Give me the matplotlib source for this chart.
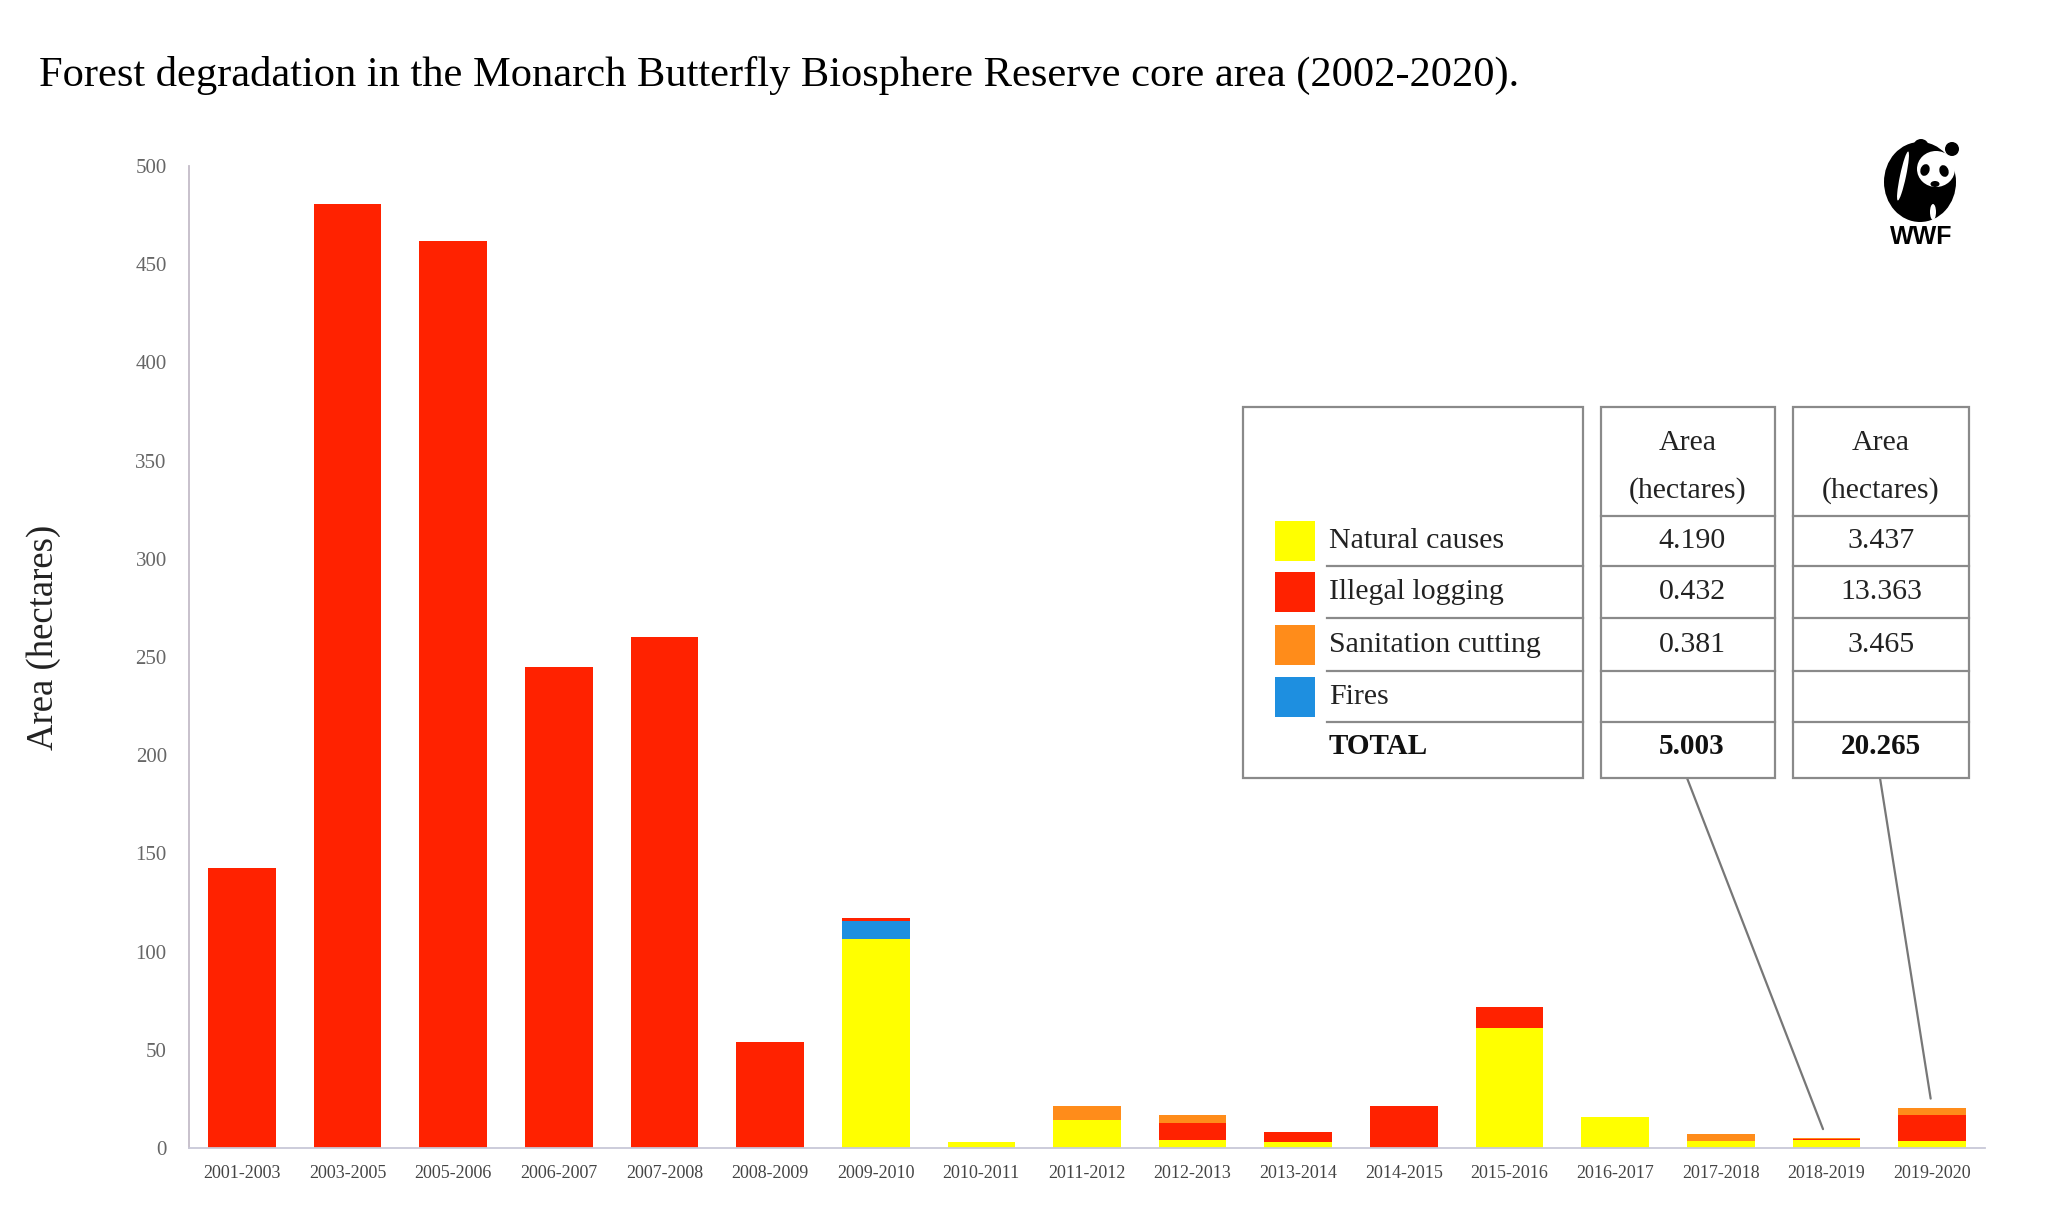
import matplotlib
matplotlib.use("Agg")
import matplotlib.pyplot as plt
from matplotlib.patches import Rectangle, Ellipse
from matplotlib.patches import ConnectionPatch
import numpy as np

# ---------------- data ----------------
periods = ['2001-2003', '2003-2005', '2005-2006', '2006-2007', '2007-2008',
           '2008-2009', '2009-2010', '2010-2011', '2011-2012', '2012-2013',
           '2013-2014', '2014-2015', '2015-2016', '2016-2017', '2017-2018',
           '2018-2019', '2019-2020']
natural    = [0, 0, 0, 0, 0, 0, 106.3, 3.0, 14.2, 4.0, 3.0, 0, 61.0, 15.8, 3.5, 4.190, 3.437]
fires      = [0, 0, 0, 0, 0, 0, 9.1, 0, 0, 0, 0, 0, 0, 0, 0, 0, 0]
illegal    = [142.5, 480.7, 462.0, 244.7, 260.0, 54.0, 1.5, 0, 0, 8.6, 5.0, 21.4, 11.0, 0, 0, 0.432, 13.363]
sanitation = [0, 0, 0, 0, 0, 0, 0, 0, 7.2, 4.1, 0, 0, 0, 0, 3.5, 0.381, 3.465]

yticks = [0, 50, 100, 150, 200, 250, 300, 350, 400, 450, 500]

legend_labels = ['Natural causes', 'Illegal logging', 'Sanitation cutting', 'Fires']
col1_values = ['4.190', '0.432', '0.381', '']
col2_values = ['3.437', '13.363', '3.465', '']
col1_total = '5.003'
col2_total = '20.265'
highlight_idx = [15, 16]

C_NAT = '#FFFF00'
C_ILL = '#FF2200'
C_SAN = '#FF8C1A'
C_FIR = '#1E8FE0'

SERIF = ['Liberation Serif', 'DejaVu Serif']

# ---------------- figure ----------------
fig = plt.figure(figsize=(20.48, 12.24), dpi=100)
fig.patch.set_facecolor('white')
ax = fig.add_axes([189/2048, 1 - 1148/1224, (1985-189)/2048, (1148-166)/1224])

x = np.arange(len(periods))
w = 0.64
nat = np.array(natural); fir = np.array(fires); ill = np.array(illegal); san = np.array(sanitation)
ax.bar(x, nat, w, color=C_NAT, linewidth=0)
ax.bar(x, fir, w, bottom=nat, color=C_FIR, linewidth=0)
ax.bar(x, ill, w, bottom=nat + fir, color=C_ILL, linewidth=0)
ax.bar(x, san, w, bottom=nat + fir + ill, color=C_SAN, linewidth=0)
totals = nat + fir + ill + san

ax.set_xlim(-0.5, len(periods) - 0.5)
ax.set_ylim(0, 500)
ax.set_yticks(yticks)
ax.set_yticklabels([str(v) for v in yticks], family=SERIF, fontsize=15, color='#666666')
ax.set_xticks(x)
ax.set_xticklabels(periods, family=SERIF, fontsize=13, color='#444444')
ax.tick_params(axis='y', length=0, pad=16)
ax.tick_params(axis='x', length=0, pad=12)
for s in ['top', 'right']:
    ax.spines[s].set_visible(False)
ax.spines['left'].set_color('#c4bcc8')
ax.spines['bottom'].set_color('#c8c8d8')
ax.spines['left'].set_linewidth(1.3)
ax.spines['bottom'].set_linewidth(1.3)
ax.set_ylabel('Area (hectares)', family=SERIF, fontsize=26.5, color='#222222')
ax.yaxis.set_label_coords(-0.071, 0.52)

# ---------------- overlay (pixel coords) ----------------
ov = fig.add_axes([0, 0, 1, 1], zorder=5)
ov.set_xlim(0, 2048)
ov.set_ylim(1224, 0)
ov.axis('off')

ov.text(39, 86, 'Forest degradation in the Monarch Butterfly Biosphere Reserve core area (2002-2020).',
        family=SERIF, fontsize=30.6, color='black', va='baseline', ha='left')

# table
LC = '#8a8a8a'
LW = 1.6
top, bot = 407, 778
rows = [516, 566, 618, 671, 722, 778]
b1 = (1243, 1583)
b2 = (1601, 1775)
b3 = (1793, 1969)
FS = 21.5
for (l, r) in (b1, b2, b3):
    ov.add_patch(Rectangle((l, top), r - l, bot - top, facecolor='white', edgecolor=LC, lw=LW))
for yv in rows[1:-1]:
    ov.plot([1327, b1[1]], [yv, yv], color=LC, lw=LW)
for (l, r) in (b2, b3):
    for yv in rows[:-1]:
        ov.plot([l, r], [yv, yv], color=LC, lw=LW)

sw_colors = [C_NAT, C_ILL, C_SAN, C_FIR]
for i, (lab, c) in enumerate(zip(legend_labels, sw_colors)):
    yc = (rows[i] + rows[i + 1]) / 2
    ov.add_patch(Rectangle((1275, yc - 20), 40, 40, facecolor=c, edgecolor='none'))
    ov.text(1329, yc, lab, family=SERIF, fontsize=FS, color='#222222', va='center', ha='left')
    ov.text(sum(b2) / 2 + 4, yc, col1_values[i], family=SERIF, fontsize=FS, color='#222222', va='center', ha='center')
    ov.text(sum(b3) / 2, yc, col2_values[i], family=SERIF, fontsize=FS, color='#222222', va='center', ha='center')
yt = (rows[4] + rows[5]) / 2 - 3
ov.text(1329, yt, 'TOTAL', family=SERIF, fontsize=FS - 0.5, weight='bold', color='#111111', va='center', ha='left')
ov.text(sum(b2) / 2 + 4, yt, col1_total, family=SERIF, fontsize=FS - 0.5, weight='bold', color='#111111', va='center', ha='center')
ov.text(sum(b3) / 2, yt, col2_total, family=SERIF, fontsize=FS - 0.5, weight='bold', color='#111111', va='center', ha='center')
for (l, r) in (b2, b3):
    ov.text((l + r) / 2, 443, 'Area', family=SERIF, fontsize=FS, color='#222222', va='center', ha='center')
    ov.text((l + r) / 2, 491, '(hectares)', family=SERIF, fontsize=FS, color='#222222', va='center', ha='center')

# connectors
for (l, r), idx in zip((b2, b3), highlight_idx):
    con = ConnectionPatch(xyA=((l + r) / 2 - 1, bot), coordsA=ov.transData,
                          xyB=(idx, totals[idx]), coordsB=ax.transData,
                          color='#777777', lw=1.6, shrinkB=7)
    fig.add_artist(con)

# WWF logo (simplified panda)
K = 'black'
ov.add_patch(Ellipse((1920, 182), 72, 80, facecolor=K, edgecolor='none'))
ov.add_patch(Ellipse((1903, 176), 6, 50, angle=12, facecolor='white', edgecolor='none'))
ov.add_patch(Ellipse((1936, 169), 38, 36, facecolor='white', edgecolor='none'))
ov.add_patch(Ellipse((1921, 146), 15, 14, facecolor=K, edgecolor='none'))
ov.add_patch(Ellipse((1952, 149), 14, 14, facecolor=K, edgecolor='none'))
ov.add_patch(Ellipse((1925, 170), 9, 12, angle=20, facecolor=K, edgecolor='none'))
ov.add_patch(Ellipse((1944, 171), 9, 12, angle=-20, facecolor=K, edgecolor='none'))
ov.add_patch(Ellipse((1935, 184), 9, 6, facecolor=K, edgecolor='none'))
ov.add_patch(Ellipse((1933, 212), 6, 16, facecolor='white', edgecolor='none'))
ov.text(1921, 237, 'WWF', family=['Liberation Sans', 'DejaVu Sans'], fontsize=18, weight='bold',
        color='black', va='center', ha='center')

fig.savefig('out.png', dpi=100, facecolor='white')
